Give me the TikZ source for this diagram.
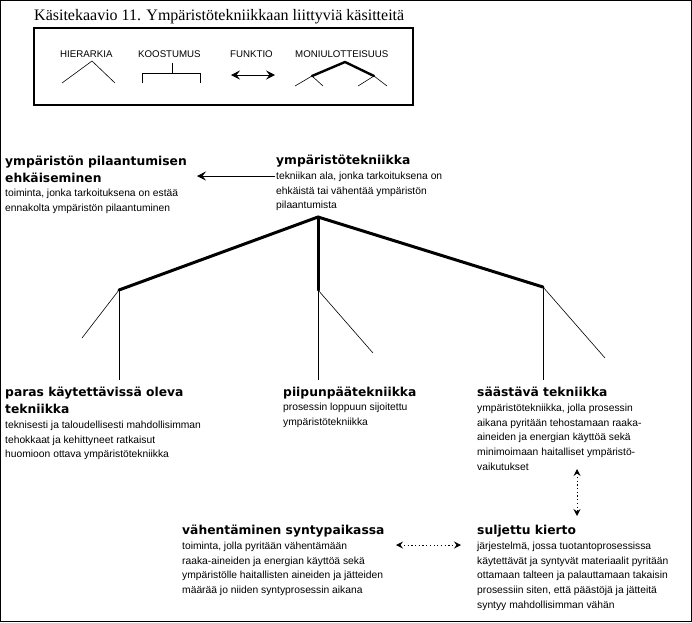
\documentclass[tikz,border=0pt]{standalone}
\usepackage{fontspec}
\setmainfont{Liberation Serif}
\newfontfamily\bodyface{Liberation Sans}
\newfontfamily\headface{DejaVu Sans}
\usetikzlibrary{arrows.meta}
\newcommand{\bodyrule}{\rule{0pt}{10pt}}
\newcommand{\headrule}{\rule{0pt}{12pt}}
\tikzset{
  x=1pt, y=-1pt,
  headtext/.style={anchor=north west, inner sep=0pt, align=left,
    font=\headface\bfseries\fontsize{12.3}{17}\selectfont},
  bodytext/.style={anchor=north west, inner sep=0pt, align=left,
    font=\bodyface\fontsize{10.3}{14.8}\selectfont},
  legtext/.style={anchor=base west, inner sep=0pt,
    font=\bodyface\fontsize{9.7}{11}\selectfont},
  thickline/.style={line width=3pt, line cap=round, line join=round},
  thinline/.style={line width=0.6pt},
  legthick/.style={line width=2.4pt, line cap=round, line join=round},
  dotarrow/.style={line width=0.8pt, dash pattern=on 1.2pt off 2.5pt,
    {Stealth[length=7pt, width=7pt, inset=2.5pt]}-{Stealth[length=7pt, width=7pt, inset=2.5pt]}},
}
\begin{document}
\begin{tikzpicture}
\useasboundingbox (0,0) rectangle (692,622);
\draw[line width=1pt] (0.5,0.5) rectangle (691.5,621.5);

% title
\node[anchor=base west, inner sep=0pt, font=\fontsize{16}{18}\selectfont] (title) at (34,20) {Käsitekaavio 11. Ympäristötekniikkaan liittyviä käsitteitä};

% legend
\draw[line width=2pt] (34,28) rectangle (413,105);
\node[legtext] (lh) at (60,57) {HIERARKIA};
\node[legtext] (lk) at (138,57) {KOOSTUMUS};
\node[legtext] (lf) at (230,57) {FUNKTIO};
\node[legtext] (lm) at (295,57) {MONIULOTTEISUUS};
\coordinate (hA) at (92,61); \coordinate (hL) at (62,83); \coordinate (hR) at (115,83);
\draw[thinline] (hL) -- (hA) -- (hR);
\coordinate (kT) at (172,63); \coordinate (kM) at (172,73);
\coordinate (kL) at (142,73); \coordinate (kR) at (200,73);
\coordinate (kLb) at (142,83); \coordinate (kRb) at (200,83);
\draw[thinline] (kT) -- (kM);
\draw[thinline] (kLb) -- (kL) -- (kR) -- (kRb);
\coordinate (fL) at (231,75); \coordinate (fR) at (275,75);
\draw[line width=0.8pt, {Stealth[length=9pt, width=9pt, inset=3.5pt]}-{Stealth[length=9pt, width=9pt, inset=3.5pt]}] (fL) -- (fR);
\coordinate (mA) at (345,62); \coordinate (mL) at (312,76); \coordinate (mR) at (374,76);
\draw[legthick] (mL) -- (mA) -- (mR);
\coordinate (mL1) at (295,86); \coordinate (mL2) at (323,86);
\coordinate (mR1) at (358,86); \coordinate (mR2) at (387,86);
\draw[thinline] (mL1) -- (mL) -- (mL2);
\draw[thinline] (mR1) -- (mR) -- (mR2);

% text blocks
\node[headtext] (h1) at (5,153) {\headrule ympäristön pilaantumisen\\ehkäiseminen};
\node[bodytext] (b1) at (5,186) {\bodyrule toiminta, jonka tarkoituksena on estää\\ennakolta ympäristön pilaantuminen};

\node[headtext] (h2) at (276,152) {\headrule ympäristötekniikka};
\node[bodytext] (b2) at (276,169) {\bodyrule tekniikan ala, jonka tarkoituksena on\\ehkäistä tai vähentää ympäristön\\pilaantumista};

\node[headtext] (h3) at (5,384) {\headrule paras käytettävissä oleva\\tekniikka};
\node[bodytext] (b3) at (5,418) {\bodyrule teknisesti ja taloudellisesti mahdollisimman\\tehokkaat ja kehittyneet ratkaisut\\huomioon ottava ympäristötekniikka};

\node[headtext] (h4) at (283,384) {\headrule piipunpäätekniikka};
\node[bodytext] (b4) at (283,400) {\bodyrule prosessin loppuun sijoitettu\\ympäristötekniikka};

\node[headtext] (h5) at (477,384) {\headrule säästävä tekniikka};
\node[bodytext] (b5) at (477,401) {\bodyrule ympäristötekniikka, jolla prosessin\\aikana pyritään tehostamaan raaka-\\aineiden ja energian käyttöä sekä\\minimoimaan haitalliset ympäristö-\\vaikutukset};

\node[headtext] (h6) at (182,522) {\headrule vähentäminen syntypaikassa};
\node[bodytext] (b6) at (182,539) {\bodyrule toiminta, jolla pyritään vähentämään\\raaka-aineiden ja energian käyttöä sekä\\ympäristölle haitallisten aineiden ja jätteiden\\määrää jo niiden syntyprosessin aikana};

\node[headtext] (h7) at (477,522) {\headrule suljettu kierto};
\node[bodytext] (b7) at (477,539) {\bodyrule järjestelmä, jossa tuotantoprosessissa\\käytettävät ja syntyvät materiaalit pyritään\\ottamaan talteen ja palauttamaan takaisin\\prosessiin siten, että päästöjä ja jätteitä\\syntyy mahdollisimman vähän};

% arrow between top blocks
\coordinate (a1s) at (275,176); \coordinate (a1e) at (197,176);
\draw[line width=0.8pt, -{Stealth[length=9pt, width=9pt, inset=3.5pt]}] (a1s) -- (a1e);

% tree
\coordinate (ap) at (318,217);
\coordinate (jm) at (318,290); \coordinate (jl) at (119,290); \coordinate (jr) at (543,287);
\coordinate (bl) at (119,380); \coordinate (bm) at (318,380); \coordinate (br) at (543,380);
\coordinate (dl) at (82,338); \coordinate (dm) at (373,353); \coordinate (dr) at (605,358);
\draw[thickline] (jl) -- (ap) -- (jr);
\draw[thickline] (ap) -- (jm);
\draw[thinline] (jl) -- (bl); \draw[thinline] (jm) -- (bm); \draw[thinline] (jr) -- (br);
\draw[thinline] (jl) -- (dl); \draw[thinline] (jm) -- (dm); \draw[thinline] (jr) -- (dr);

% dotted arrows
\coordinate (v1) at (577,469); \coordinate (v2) at (577,516);
\draw[dotarrow] (v1) -- (v2);
\coordinate (w1) at (396,545); \coordinate (w2) at (461,545);
\draw[dotarrow] (w1) -- (w2);
\end{tikzpicture}
\end{document}
